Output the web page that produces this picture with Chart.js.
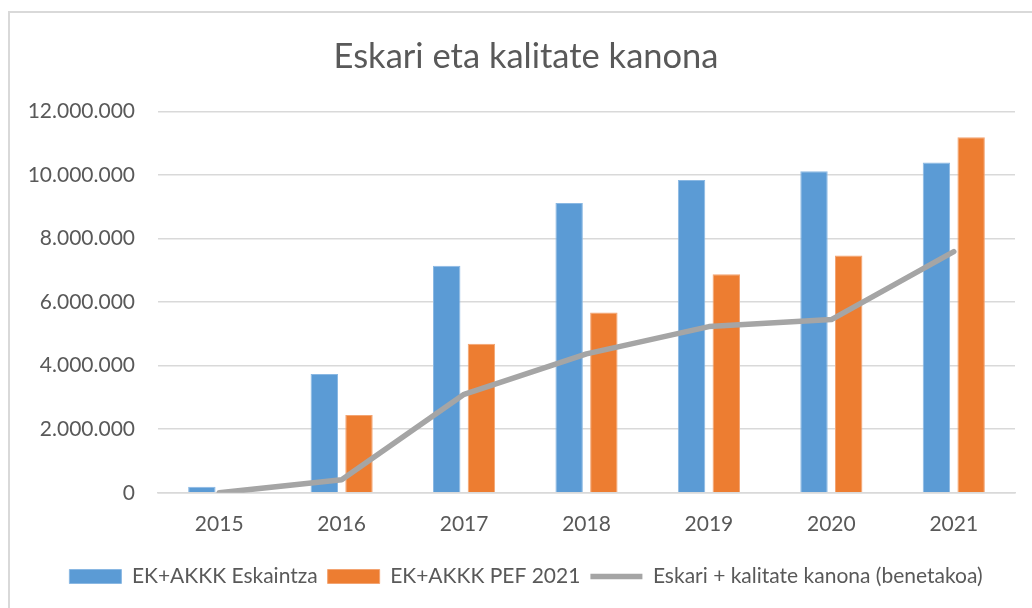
<!DOCTYPE html>
<html>
<head>
<meta charset="utf-8">
<script src="https://cdn.jsdelivr.net/npm/chart.js@4.4.1/dist/chart.umd.min.js"></script>
<style>
  html, body { margin: 0; padding: 0; background: #fff; overflow: hidden; }
  #frame {
    position: absolute;
    left: 8px;
    top: 11px;
    border-left: 2px solid #d9d9d9;
    border-top: 2px solid #d9d9d9;
    width: 1032px;
    height: 600px;
  }
</style>
</head>
<body>
<div id="frame"><canvas id="chart" width="1032" height="595"></canvas></div>
<script>
const years = ["2015", "2016", "2017", "2018", "2019", "2020", "2021"];
const eskaintza = [190000, 3740000, 7140000, 9120000, 9840000, 10120000, 10390000];
const pef2021 = [null, 2450000, 4690000, 5670000, 6880000, 7470000, 11190000];
const benetakoa = [0, 410000, 3100000, 4370000, 5230000, 5450000, 7590000];
const yTicks = [0, 2000000, 4000000, 6000000, 8000000, 10000000, 12000000];

const textColor = "#595959";
const fontFamily = "Lato, 'Open Sans', sans-serif";

function dots(v) {
  return String(v).replace(/\B(?=(\d{3})+(?!\d))/g, ".");
}

const ctx = document.getElementById("chart");
const chart = new Chart(ctx, {
  data: {
    labels: years,
    datasets: [
      {
        type: "bar",
        label: "EK+AKKK Eskaintza",
        data: eskaintza,
        backgroundColor: "#5b9bd5",
        borderColor: "#8ab8e3",
        borderWidth: 1,
        pointStyle: "rect",
        order: 1,
        categoryPercentage: 0.567,
        barPercentage: 0.79,
      },
      {
        type: "bar",
        label: "EK+AKKK PEF 2021",
        data: pef2021,
        backgroundColor: "#ed7d31",
        borderColor: "#f3a472",
        borderWidth: 1,
        pointStyle: "rect",
        order: 1,
        categoryPercentage: 0.567,
        barPercentage: 0.79,
      },
      {
        type: "line",
        label: "Eskari + kalitate kanona (benetakoa)",
        data: benetakoa,
        borderColor: "#a5a5a5",
        backgroundColor: "#a5a5a5",
        borderWidth: 5.5,
        borderCapStyle: "round",
        borderJoinStyle: "round",
        pointRadius: 0,
        pointStyle: "line",
        tension: 0,
        order: 0,
      },
    ],
  },
  options: {
    responsive: false,
    animation: false,
    layout: {
      padding: { left: 0, right: 0, top: 0, bottom: 11 },
    },
    plugins: {
      tooltip: { enabled: false },
      title: {
        display: true,
        text: "Eskari eta kalitate kanona",
        color: textColor,
        font: { family: fontFamily, size: 34.5, weight: "normal" },
        padding: { top: 23, bottom: 34 },
      },
      legend: {
        position: "bottom",
        labels: {
          color: textColor,
          font: { family: fontFamily, size: 21 },
          usePointStyle: true,
          pointStyleWidth: 52,
          boxHeight: 14,
          padding: 10,
          sort: (a, b) => a.datasetIndex - b.datasetIndex,
        },
      },
    },
    scales: {
      x: {
        grid: { display: false, drawTicks: false },
        border: { display: true, color: "#d9d9d9", width: 1.5 },
        ticks: {
          color: textColor,
          font: { family: fontFamily, size: 21 },
          padding: 19,
        },
      },
      y: {
        min: 0,
        max: 12000000,
        afterFit: (scale) => {
          scale.width = 148;
        },
        afterBuildTicks: (scale) => {
          scale.ticks = yTicks.map((v) => ({ value: v }));
        },
        grid: { color: "#d9d9d9", lineWidth: 1.5, drawTicks: false },
        border: { display: false },
        ticks: {
          color: textColor,
          font: { family: fontFamily, size: 21 },
          padding: 23,
          callback: (v) => dots(v),
        },
      },
      // empty right-hand axis, only keeps the plot clear of the right edge
      yRight: {
        position: "right",
        afterFit: (scale) => {
          scale.width = 27;
        },
        grid: { display: false, drawTicks: false },
        border: { display: false },
        ticks: { display: false },
      },
    },
  },
});
</script>
</body>
</html>
